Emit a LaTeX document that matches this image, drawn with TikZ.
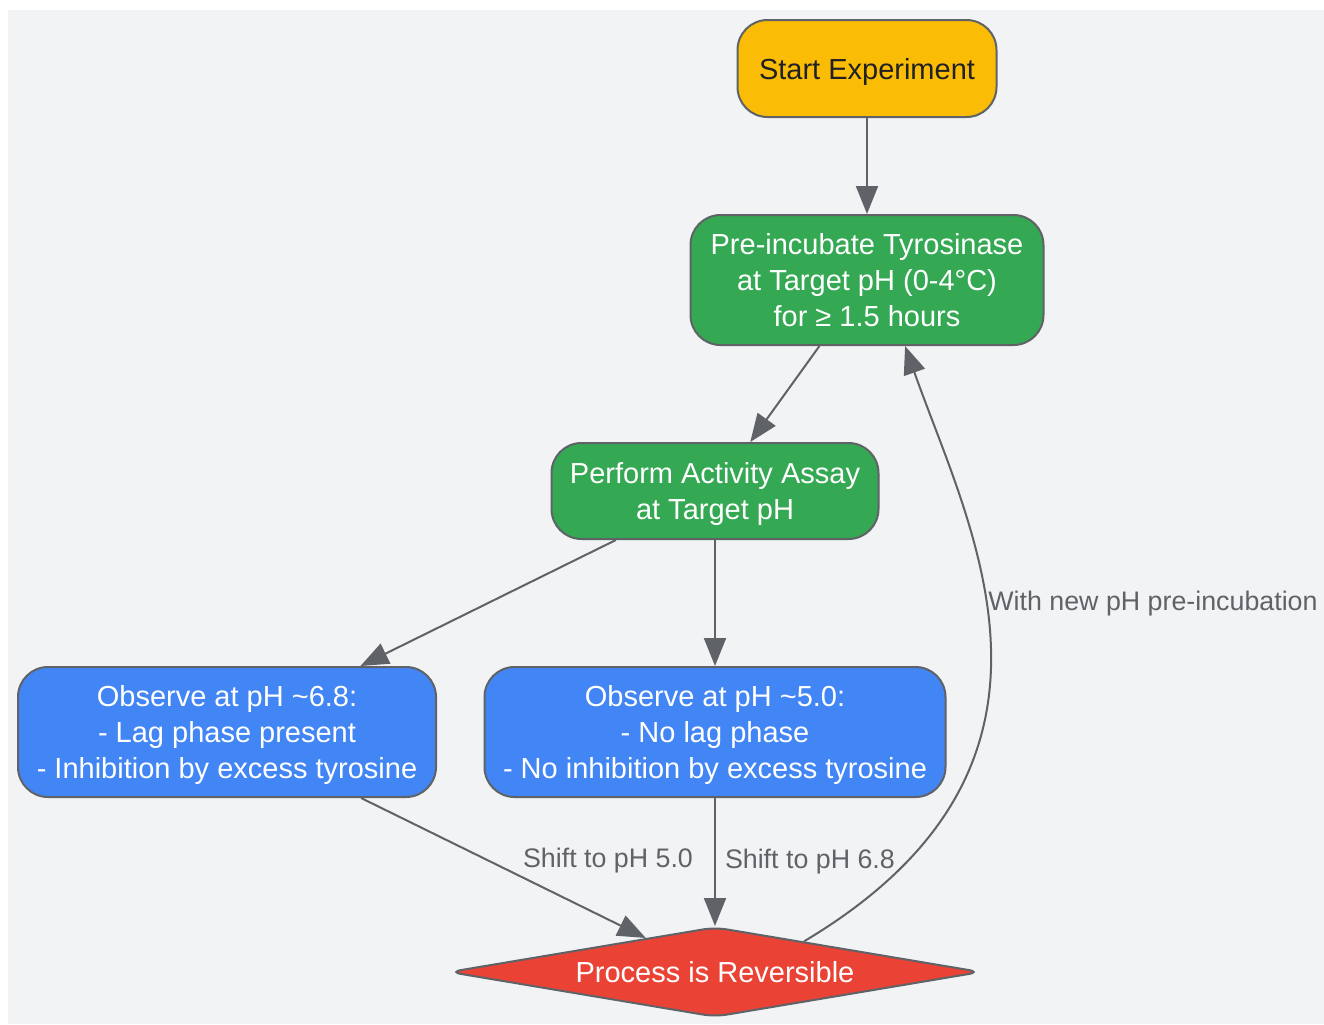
\documentclass[tikz,border=0pt]{standalone}
\usepackage{fontspec}
\setmainfont{Liberation Sans}
\usetikzlibrary{shapes.geometric,arrows.meta}
\definecolor{bg}{HTML}{F1F3F4}
\definecolor{edgegray}{HTML}{5F6368}
\definecolor{startyel}{HTML}{FBBC05}
\definecolor{stepgrn}{HTML}{34A853}
\definecolor{obsblu}{HTML}{4285F4}
\definecolor{endred}{HTML}{EA4335}
\definecolor{ink}{HTML}{202124}

\begin{document}
\begin{tikzpicture}[x=0.5pt,y=-0.5pt,
        box/.style={draw=edgegray,line width=1pt,rounded corners=15pt,align=center,
                    text=white,inner sep=0pt,text depth=0pt,font=\fontsize{14.5}{18}\selectfont},
        lbl/.style={text=edgegray,inner sep=0pt,font=\fontsize{13.4}{16}\selectfont},
        link/.style={draw=edgegray,line width=1pt,-{Triangle[length=14pt,width=11pt]}}]
    \useasboundingbox (0,0) rectangle (1324,1024);
    \fill [bg] (8,10) rectangle (1324,1024);

    % nodes
    \node [box,fill=startyel,text=ink,minimum width=129.5pt,minimum height=48.5pt]
        (start) at (867,68.5) {Start Experiment};
    \node [box,fill=stepgrn,minimum width=176.5pt,minimum height=65pt]
        (pre) at (867,280) {Pre-incubate Tyrosinase\\at Target pH (0-4°C)\\for ≥ 1.5 hours};
    \node [box,fill=stepgrn,minimum width=163.5pt,minimum height=48pt]
        (assay) at (715,491) {Perform Activity Assay\\at Target pH};
    \node [box,fill=obsblu,minimum width=209pt,minimum height=65pt]
        (obs68) at (227,732) {Observe at pH \textasciitilde6.8:\\- Lag phase present\\- Inhibition by excess tyrosine};
    \node [box,fill=obsblu,minimum width=230.5pt,minimum height=65pt]
        (obs50) at (715,732) {Observe at pH \textasciitilde5.0:\\- No lag phase\\- No inhibition by excess tyrosine};
    \node [box,diamond,aspect=5.9,fill=endred,rounded corners=6pt,minimum width=266pt,minimum height=45pt]
        (rev) at (715,972) {Process is Reversible};

    % connectors
    \draw [link] (start) -- (pre);
    \draw [link] (pre) -- (assay);
    \draw [link] (assay) -- (obs68);
    \draw [link] (assay) -- (obs50);
    \draw [link] (obs68) -- (rev);
    \draw [link] (obs50) -- node [lbl,midway,anchor=west,xshift=4.5pt] (lshift68) {Shift to pH 6.8} (rev);
    \draw [link] (rev.19) .. controls (1100,765) and (970,530) .. (pre.-60);

    % edge labels
    \node [lbl] (lshift50) at (608,861) {Shift to pH 5.0};
    \node [lbl] (lnew) at (1153,604) {With new pH pre-incubation};
\end{tikzpicture}
\end{document}
